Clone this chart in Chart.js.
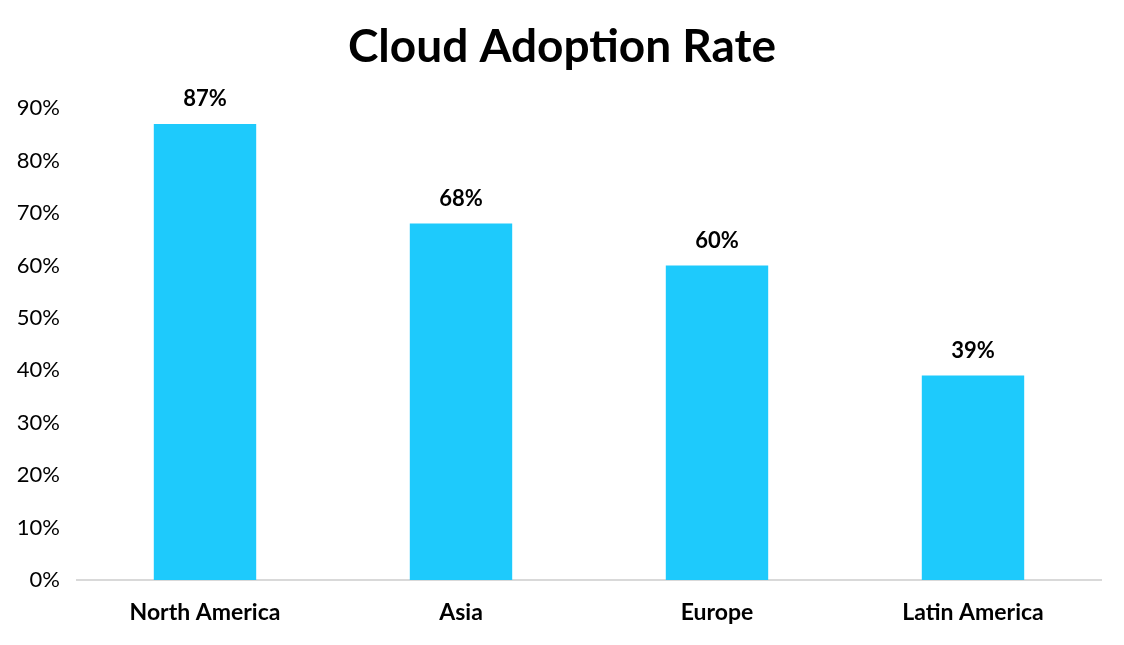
<!DOCTYPE html>
<html>
<head>
<meta charset="utf-8">
<script src="https://cdn.jsdelivr.net/npm/chart.js@4/dist/chart.umd.min.js"></script>
<style>
  html, body { margin: 0; padding: 0; background: #fff; }
  #wrap { width: 1124px; height: 645px; }
</style>
</head>
<body>
<div id="wrap"><canvas id="chart"></canvas></div>
<script>
// chart data
const regions = ['North America', 'Asia', 'Europe', 'Latin America'];
const adoptionRates = [87, 68, 60, 39];
const yTickMax = 90;

const FONT = 'Lato, "Open Sans", sans-serif';

// draws the bold value label above every bar
const barLabels = {
    id: 'barLabels',
    afterDatasetsDraw(chart) {
        const ctx = chart.ctx;
        const meta = chart.getDatasetMeta(0);
        ctx.save();
        ctx.font = 'bold 22px ' + FONT;
        ctx.fillStyle = '#000';
        ctx.textAlign = 'center';
        ctx.textBaseline = 'middle';
        meta.data.forEach((bar, i) => {
            ctx.fillText(adoptionRates[i] + '%', bar.x, bar.y - 25);
        });
        ctx.restore();
    }
};

new Chart(document.getElementById('chart').getContext('2d'), {
    type: 'bar',
    data: {
        labels: regions,
        datasets: [{
            data: adoptionRates,
            backgroundColor: '#1ECAFC',
            categoryPercentage: 1,
            barPercentage: 0.4
        }]
    },
    options: {
        responsive: true,
        maintainAspectRatio: false,
        animation: false,
        layout: { padding: 0 },
        plugins: {
            legend: { display: false },
            tooltip: { enabled: false },
            title: {
                display: true,
                text: 'Cloud Adoption Rate',
                color: '#000',
                font: { family: FONT, size: 46, weight: 'bold' },
                padding: { top: 20, bottom: 33 }
            }
        },
        scales: {
            x: {
                grid: { display: false, drawTicks: false },
                border: { display: true, color: '#d9d9d9', width: 2 },
                ticks: {
                    color: '#000',
                    padding: 19,
                    font: { family: FONT, size: 23, weight: 'bold' }
                },
                afterFit(scale) { scale.height = 65; }
            },
            y: {
                min: 0,
                max: yTickMax,
                grid: { display: false, drawTicks: false },
                border: { display: false },
                ticks: {
                    stepSize: 10,
                    color: '#000',
                    padding: 17,
                    font: { family: FONT, size: 22 },
                    callback: v => v + '%'
                },
                afterFit(scale) { scale.width = 77; }
            },
            // empty right margin so the title stays centred on the page
            yRight: {
                position: 'right',
                grid: { display: false, drawTicks: false },
                border: { display: false },
                ticks: { display: false },
                afterFit(scale) { scale.width = 23; }
            }
        }
    },
    plugins: [barLabels]
});
</script>
</body>
</html>
